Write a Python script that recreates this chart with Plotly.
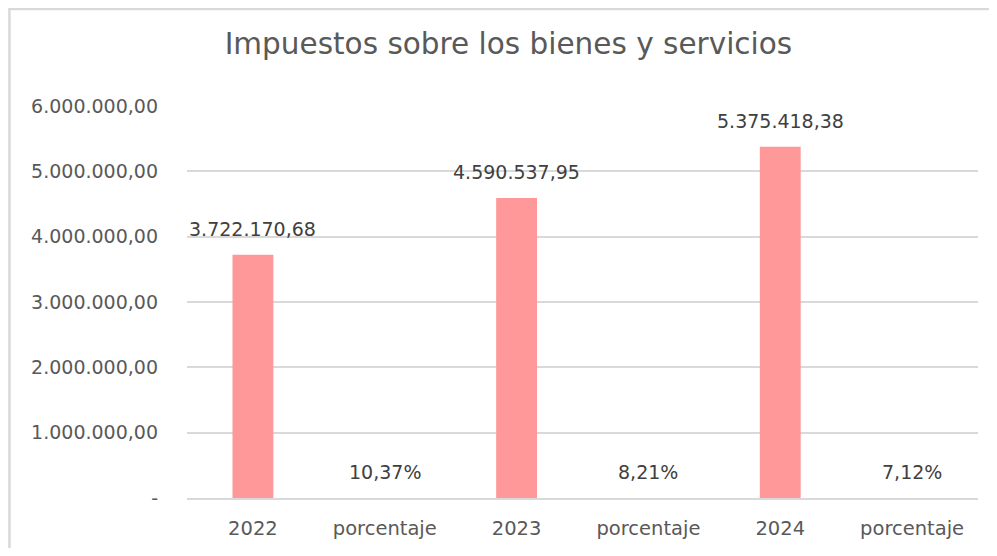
import plotly.graph_objects as go

categories = ['2022', 'porcentaje', '2023', 'porcentaje', '2024', 'porcentaje']
values = [3722170.68, 0.1037, 4590537.95, 0.0821, 5375418.38, 0.0712]
is_percent = [False, True, False, True, False, True]
tick_vals = [0, 1000000, 2000000, 3000000, 4000000, 5000000, 6000000]


def es_number(v):
    s = f"{v:,.2f}"
    return s.replace(',', 'X').replace('.', ',').replace('X', '.')


def es_percent(v):
    return f"{v * 100:.2f}".replace('.', ',') + '%'


labels = [es_percent(v) if p else es_number(v) for v, p in zip(values, is_percent)]
tick_text = ['-' if t == 0 else es_number(t) for t in tick_vals]

# categories repeat, so use positions and map tick labels
xpos = list(range(len(categories)))
FONT = 'DejaVu Sans'

fig = go.Figure()
fig.add_trace(go.Bar(
    x=xpos, y=values,
    marker=dict(color='#FF9999', line=dict(width=0)),
    width=0.31,
    hoverinfo='skip'
))

# data labels sit a bit higher than plotly's outside text
for xp, v, lab in zip(xpos, values, labels):
    fig.add_annotation(x=xp, y=v, text=lab, showarrow=False,
                       yanchor='bottom', yshift=13,
                       font=dict(size=19, color='#404040', family=FONT))

# page body has an 8px margin, so the figure is a bit smaller than the window
fig.update_layout(
    width=989, height=540,
    margin=dict(l=179, r=19, t=98, b=50),
    paper_bgcolor='white', plot_bgcolor='white',
    showlegend=False,
    font=dict(family=FONT, color='#595959'),
    title=dict(text='Impuestos sobre los bienes y servicios',
               x=0.506, xanchor='center', y=1 - 36 / 540, yanchor='middle',
               font=dict(size=29.5, color='#595959', family=FONT)),
    shapes=[dict(type='rect', xref='paper', yref='paper',
                 x0=-0.2245, x1=1.1, y0=-0.3, y1=1.2474,
                 line=dict(color='#D9D9D9', width=2.5), layer='below')]
)

fig.update_xaxes(
    tickvals=xpos, ticktext=categories,
    range=[-0.5, 5.5], automargin=False,
    showgrid=False, showline=True, linecolor='#D9D9D9', linewidth=1.5,
    ticks='', ticklabelstandoff=12,
    tickfont=dict(size=19.5, color='#595959', family=FONT)
)
fig.update_yaxes(
    tickvals=tick_vals, ticktext=tick_text,
    range=[0, 6000000], automargin=False,
    showgrid=True, gridcolor='#D9D9D9', gridwidth=1.5,
    zeroline=False, ticks='', ticklabelstandoff=28,
    tickfont=dict(size=19, color='#595959', family=FONT)
)

fig.write_html('out.html')
